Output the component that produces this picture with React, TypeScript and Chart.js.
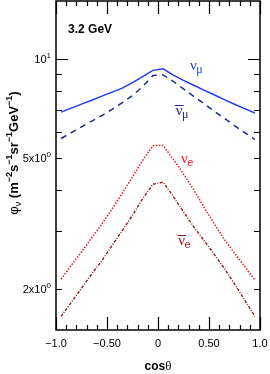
import React, { useEffect, useRef } from "react";
import { Chart, registerables } from "chart.js";
Chart.register(...registerables);

const cosTheta = [-0.95, -0.85, -0.75, -0.65, -0.55, -0.45, -0.35, -0.25, -0.15, -0.05, 0.05, 0.15, 0.25, 0.35, 0.45, 0.55, 0.65, 0.75, 0.85, 0.95];
const numuFlux = [6.89, 7.09, 7.29, 7.49, 7.71, 7.93, 8.15, 8.47, 8.84, 9.23, 9.33, 8.93, 8.61, 8.32, 8.04, 7.78, 7.52, 7.28, 7.06, 6.85];
const numubarFlux = [5.73, 5.97, 6.22, 6.47, 6.73, 7.03, 7.36, 7.74, 8.24, 8.91, 8.94, 8.55, 8.11, 7.70, 7.31, 6.94, 6.60, 6.27, 5.97, 5.69];
const nueFlux = [2.14, 2.36, 2.59, 2.86, 3.15, 3.50, 3.91, 4.38, 4.92, 5.45, 5.46, 4.95, 4.47, 4.00, 3.55, 3.16, 2.83, 2.57, 2.34, 2.13];
const nuebarFlux = [1.65, 1.82, 2.01, 2.22, 2.44, 2.71, 3.01, 3.35, 3.76, 4.16, 4.22, 3.82, 3.43, 3.09, 2.81, 2.55, 2.31, 2.07, 1.85, 1.65];

const xMajorTicks = [-1, -0.5, 0, 0.5, 1];
const xTickLabels = ["\u22121.0", "\u22120.50", "0", "0.50", "1.0"];
const xMinorTicks = [-0.9, -0.8, -0.7, -0.6, -0.4, -0.3, -0.2, -0.1, 0.1, 0.2, 0.3, 0.4, 0.6, 0.7, 0.8, 0.9];
const yMajorTicks = [10];
const yMinorTicks = [9, 8, 7, 6, 5, 4, 3, 2];
const yLabelValues = [10, 5, 2];
const yLabelBases = ["10", "5x10", "2x10"];
const yLabelExps = ["1", "0", "0"];

const energyLabel = "3.2 GeV";

type Part = { t: string; font: string; dy?: number };

function richWidth(ctx: CanvasRenderingContext2D, parts: Part[]) {
  let w = 0;
  for (const p of parts) {
    ctx.font = p.font;
    w += ctx.measureText(p.t).width;
  }
  return w;
}

function drawRich(ctx: CanvasRenderingContext2D, parts: Part[], x: number, y: number, align: "left" | "right" | "center") {
  const total = richWidth(ctx, parts);
  let cx = align === "right" ? x - total : align === "center" ? x - total / 2 : x;
  ctx.textAlign = "left";
  ctx.textBaseline = "alphabetic";
  for (const p of parts) {
    ctx.font = p.font;
    ctx.fillText(p.t, cx, y + (p.dy || 0));
    cx += ctx.measureText(p.t).width;
  }
}

const SANS = '"Liberation Sans", Arial, sans-serif';
const SERIF = '"Liberation Serif", "Times New Roman", serif';

const annotations = [
  { sub: "\u03bc", subSerif: true, bar: false, color: "#1f3cf5", x: 0.314, y: 9.28 },
  { sub: "\u03bc", subSerif: true, bar: true, color: "#1a2a90", x: 0.174, y: 6.77 },
  { sub: "e", subSerif: false, bar: false, color: "#f01818", x: 0.225, y: 4.83 },
  { sub: "e", subSerif: false, bar: true, color: "#9c1414", x: 0.199, y: 2.727 },
];

const framePlugin = {
  id: "framePlugin",
  afterDraw(chart: any) {
    const ctx: CanvasRenderingContext2D = chart.ctx;
    const { left, right, top, bottom } = chart.chartArea;
    const xs = chart.scales.x;
    const ys = chart.scales.y;
    ctx.save();
    ctx.strokeStyle = "#000";
    ctx.fillStyle = "#000";
    ctx.lineWidth = 1.5;
    ctx.strokeRect(left, top, right - left, bottom - top);

    ctx.lineWidth = 1.2;
    const vt = (v: number, len: number) => {
      const px = Math.round(xs.getPixelForValue(v)) + 0.5;
      ctx.beginPath();
      ctx.moveTo(px, bottom);
      ctx.lineTo(px, bottom - len);
      ctx.moveTo(px, top);
      ctx.lineTo(px, top + len);
      ctx.stroke();
    };
    const ht = (v: number, len: number) => {
      const py = Math.round(ys.getPixelForValue(v)) + 0.5;
      ctx.beginPath();
      ctx.moveTo(left, py);
      ctx.lineTo(left + len, py);
      ctx.moveTo(right, py);
      ctx.lineTo(right - len, py);
      ctx.stroke();
    };
    xMajorTicks.forEach((v) => vt(v, 13));
    xMinorTicks.forEach((v) => vt(v, 5));
    yMajorTicks.forEach((v) => ht(v, 12));
    yMinorTicks.forEach((v) => ht(v, 6));

    // x tick labels
    ctx.textAlign = "center";
    ctx.textBaseline = "alphabetic";
    ctx.font = `11px ${SANS}`;
    xMajorTicks.forEach((v, i) => {
      ctx.fillText(xTickLabels[i], xs.getPixelForValue(v), bottom + 17);
    });

    // y tick labels
    yLabelValues.forEach((v, i) => {
      const py = ys.getPixelForValue(v);
      drawRich(
        ctx,
        [
          { t: yLabelBases[i], font: `11px ${SANS}` },
          { t: yLabelExps[i], font: `8px ${SANS}`, dy: -5 },
        ],
        left - 5,
        py + 4,
        "right"
      );
    });

    // x title
    drawRich(
      ctx,
      [
        { t: "cos", font: `bold 12px ${SANS}` },
        { t: "\u03b8", font: `13px ${SERIF}` },
      ],
      (left + right) / 2,
      bottom + 40,
      "center"
    );

    // y title
    ctx.save();
    ctx.translate(18, 153);
    ctx.rotate(-Math.PI / 2);
    const B = `bold 13px ${SANS}`;
    const S = `bold 9px ${SANS}`;
    drawRich(
      ctx,
      [
        { t: "\u03c6", font: `13px ${SANS}` },
        { t: "\u03bd", font: `9px ${SANS}`, dy: 3 },
        { t: " (m", font: B },
        { t: "\u22122", font: S, dy: -6 },
        { t: "s", font: B },
        { t: "\u22121", font: S, dy: -6 },
        { t: "sr", font: B },
        { t: "\u22121", font: S, dy: -6 },
        { t: "GeV", font: B },
        { t: "\u22121", font: S, dy: -6 },
        { t: ")", font: B },
      ],
      0,
      0,
      "center"
    );
    ctx.restore();

    // energy label
    ctx.font = `bold 12px ${SANS}`;
    ctx.textAlign = "left";
    ctx.fillText(energyLabel, xs.getPixelForValue(-0.882), ys.getPixelForValue(12.03));

    // neutrino labels
    annotations.forEach((a) => {
      const px = xs.getPixelForValue(a.x);
      const py = ys.getPixelForValue(a.y);
      ctx.fillStyle = a.color;
      ctx.strokeStyle = a.color;
      ctx.font = `15px ${SERIF}`;
      ctx.textAlign = "left";
      ctx.fillText("\u03bd", px, py);
      const w = ctx.measureText("\u03bd").width;
      ctx.font = a.subSerif ? `12px ${SERIF}` : `11px ${SANS}`;
      ctx.fillText(a.sub, px + w - 0.5, py + 3);
      if (a.bar) {
        ctx.lineWidth = 1;
        ctx.beginPath();
        ctx.moveTo(px - 1, Math.round(py - 10) + 0.5);
        ctx.lineTo(px + w + 1, Math.round(py - 10) + 0.5);
        ctx.stroke();
      }
    });
    ctx.restore();
  },
};

export default function App() {
  const ref = useRef<HTMLCanvasElement>(null);
  useEffect(() => {
    if (!ref.current) return;
    const mk = (vals: number[]) => cosTheta.map((c, i) => ({ x: c, y: vals[i] }));
    const chart = new Chart(ref.current, {
      type: "line",
      data: {
        datasets: [
          { data: mk(numuFlux), borderColor: "#1f3cf5", borderWidth: 1.5, pointRadius: 0, fill: false, tension: 0 },
          { data: mk(numubarFlux), borderColor: "#1a2a90", borderWidth: 1.5, borderDash: [6, 5], pointRadius: 0, fill: false, tension: 0 },
          { data: mk(nueFlux), borderColor: "#f01818", borderWidth: 1.5, borderDash: [1.5, 1.5], pointRadius: 0, fill: false, tension: 0 },
          { data: mk(nuebarFlux), borderColor: "#9c1414", borderWidth: 1.4, borderDash: [3, 1.5, 1, 1.5], pointRadius: 0, fill: false, tension: 0 },
        ],
      },
      options: {
        animation: false,
        responsive: false,
        devicePixelRatio: 1,
        layout: { padding: { left: 56, right: 10, top: 1, bottom: 44 } },
        plugins: { legend: { display: false }, tooltip: { enabled: false } },
        scales: {
          x: { type: "linear", min: -1, max: 1, display: false },
          y: { type: "logarithmic", min: 1.5, max: 15, display: false },
        },
      },
      plugins: [framePlugin],
    });
    return () => chart.destroy();
  }, []);
  return (
    <div style={{ position: "absolute", left: 0, top: 0, width: 270, height: 374, background: "#fff" }}>
      <canvas ref={ref} width={270} height={374} />
    </div>
  );
}
